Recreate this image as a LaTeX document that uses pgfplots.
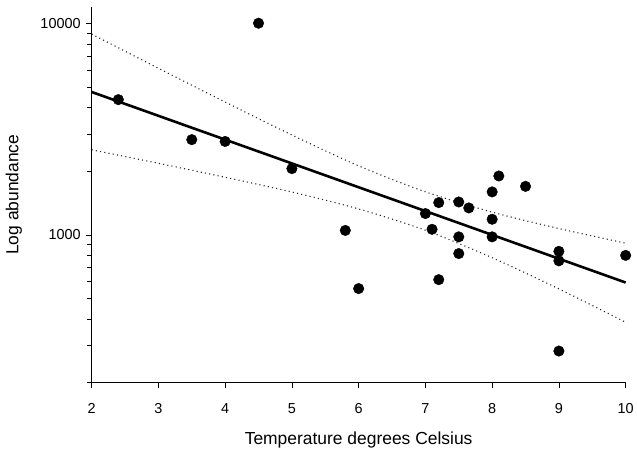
\documentclass[border=0pt]{standalone}
\usepackage{fontspec}
\setmainfont{Liberation Sans}
\usepackage{pgfplots}
\pgfplotsset{compat=1.18}

\begin{document}
\begin{tikzpicture}
\begin{axis}[
  width=536pt, height=377pt, scale only axis,
  xmin=2, xmax=10, ymin=200, ymax=12000,
  ymode=log,
  axis lines=left,
  axis line style={-, line width=0.8pt},
  xtick={2,3,4,5,6,7,8,9,10},
  ytick={1000,10000}, yticklabels={1000,10000},
  minor ytick={200,300,400,500,600,700,800,900,2000,3000,4000,5000,6000,7000,8000,9000},
  tick align=outside,
  major tick length=5.5pt, minor tick length=4.5pt,
  tick style={black, line width=0.8pt},
  /pgf/number format/assume math mode=true,
  ticklabel style={font=\fontsize{14.5}{16}\selectfont},
  xticklabel style={yshift=-12pt},
  yticklabel style={xshift=-2pt},
  xlabel={Temperature degrees Celsius},
  ylabel={Log abundance},
  xlabel style={font=\fontsize{17.5}{20}\selectfont, at={([yshift=-62pt]axis description cs:0.5,0)}, anchor=base},
  ylabel style={font=\fontsize{17.5}{20}\selectfont, at={([xshift=-73.5pt]axis description cs:0,0.5)}, anchor=base},
  clip=false,
]
% confidence band
\addplot[black!85, line width=1.1pt, dash pattern=on 1.1pt off 3.2pt, smooth] coordinates {
  (2,8930)(3,6152)(4,4256)(5,2972)(6,2123)(7,1600)(8,1282)(9,1072)(10,914)};
\addplot[black!85, line width=1.1pt, dash pattern=on 1.1pt off 3.2pt, smooth] coordinates {
  (2,2529)(3,2183)(4,1875)(5,1596)(6,1327)(7,1052)(8,780)(9,555)(10,386)};
% fitted line
\addplot[black, line width=2.6pt] coordinates {(2,4750)(10,595)};
% observations
\addplot[only marks, mark=*, mark size=5.3pt, black] coordinates {
  (2.4,4370)(3.5,2825)(4.0,2770)(4.5,10050)(5.0,2060)(5.8,1050)(6.0,557)
  (7.0,1262)(7.1,1063)(7.2,1422)(7.2,614)(7.5,1432)(7.5,979)(7.5,816)
  (7.65,1342)(8.0,1598)(8.0,1186)(8.0,979)(8.1,1901)(8.5,1698)
  (9.0,836)(9.0,754)(9.0,282)(10.0,800)};
\end{axis}
\path (current axis.south west) ++(-92pt,-66pt) rectangle ([shift={(9pt,7pt)}]current axis.north east);
\end{tikzpicture}
\end{document}
